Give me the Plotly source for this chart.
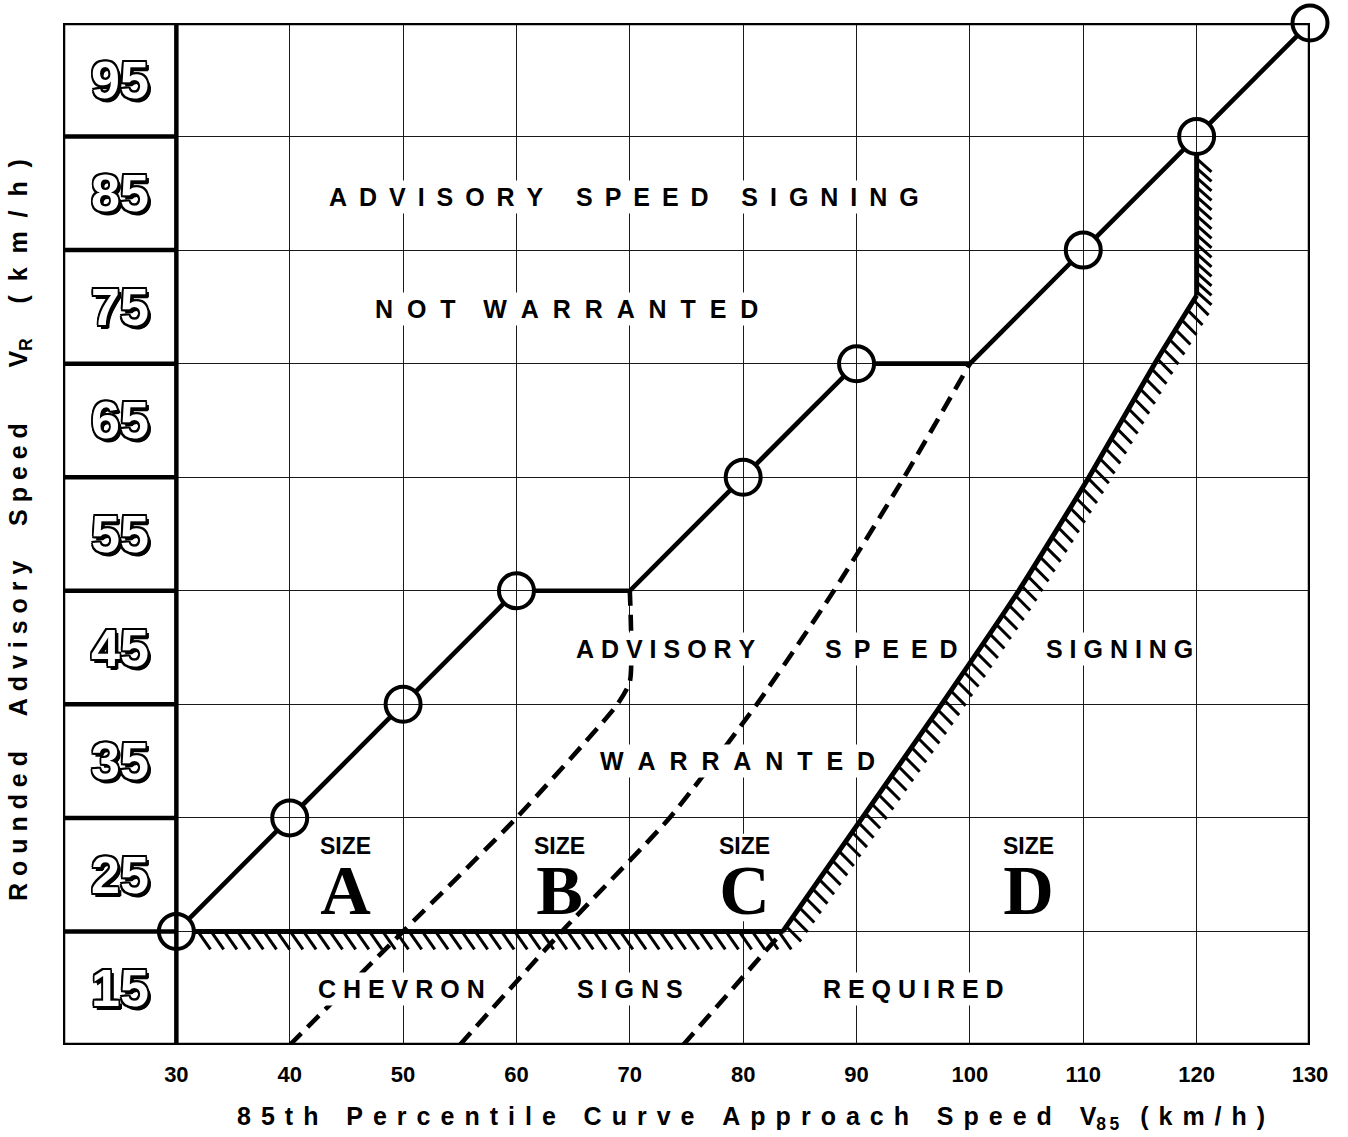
import numpy as np
import plotly.graph_objects as go

# ---------------- data ----------------
x_ticks = [30, 40, 50, 60, 70, 80, 90, 100, 110, 120, 130]
grid_y = [20, 30, 40, 50, 60, 70, 80, 90]
row_centers = [15, 25, 35, 45, 55, 65, 75, 85, 95]
row_labels = ["15", "25", "35", "45", "55", "65", "75", "85", "95"]

# advisory-speed step line (85th percentile speed -> rounded advisory speed)
main_x = [30, 40, 50, 60, 70, 80, 90, 100, 110, 120, 130]
main_y = [20, 30, 40, 50, 50, 60, 70, 70, 80, 90, 100]
main_circle = [True, True, True, True, False, True, True, False, True, True, True]

# dashed size boundaries
ab_x = [40, 50, 60, 68.9, 70, 70]
ab_y = [10, 20, 30, 40, 42, 50]
bc_x = [55, 64, 73.5, 81.2, 88, 94.2, 100]
bc_y = [10, 20, 30, 40, 50, 60, 70]
cd_x = [74.7, 83.5]
cd_y = [10, 20]

# chevron-required boundary (hatched)
base_x = [30, 83.5]
base_y = [20, 20]
d_x = [83.5, 90.5, 97.5, 104.3, 110.5, 116.3, 120]
d_y = [20, 30, 40, 50, 60, 70, 76]
vert_x = [120, 120]
vert_y = [76, 90]

size_x = [44.9, 63.8, 80.1, 105.2]
size_letters = ["A", "B", "C", "D"]

X0, X1, Y0, Y1 = 20, 130, 10, 100

# ---------------- geometry helpers ----------------
ML, MR, MT, MB = 63, 38, 23, 92
W, H = 1348, 1137
SX = (W - ML - MR) / (X1 - X0)
SY = (H - MT - MB) / (Y1 - Y0)
R_CIRC = 17.5  # px


def shift(p, q, dist_px):
    """move p toward q by dist_px pixels"""
    dx, dy = (q[0] - p[0]) * SX, (q[1] - p[1]) * SY
    L = np.hypot(dx, dy)
    return (p[0] + dx / L * dist_px / SX, p[1] + dy / L * dist_px / SY)


def polylines_avoiding_circles(xs, ys, circ):
    ox, oy = [], []
    cur = []
    for i in range(len(xs) - 1):
        p, q = (xs[i], ys[i]), (xs[i + 1], ys[i + 1])
        a = shift(p, q, R_CIRC) if circ[i] else p
        b = shift(q, p, R_CIRC) if circ[i + 1] else q
        if not cur:
            cur = [a]
        cur.append(b)
        if circ[i + 1]:
            ox += [c[0] for c in cur] + [None]
            oy += [c[1] for c in cur] + [None]
            cur = []
    if cur:
        ox += [c[0] for c in cur] + [None]
        oy += [c[1] for c in cur] + [None]
    return ox, oy


def hatch(xs, ys, spacing, length, angle_deg, start=0.0, end_trim=0.0):
    px = np.array(xs) * SX
    py = np.array(ys) * SY
    seg = np.hypot(np.diff(px), np.diff(py))
    cum = np.concatenate([[0], np.cumsum(seg)])
    total = cum[-1]
    ddx = length * np.cos(np.radians(angle_deg)) / SX
    ddy = -length * np.sin(np.radians(angle_deg)) / SY
    hx, hy = [], []
    s = start
    while s <= total - end_trim + 1e-6:
        k = min(np.searchsorted(cum, s, side="right") - 1, len(seg) - 1)
        t = (s - cum[k]) / seg[k]
        x = xs[k] + t * (xs[k + 1] - xs[k])
        y = ys[k] + t * (ys[k + 1] - ys[k])
        hx += [x, x + ddx, None]
        hy += [y, y + ddy, None]
        s += spacing
    return hx, hy


fig = go.Figure()

LW = 4.6
# main advisory speed line
mx, my = polylines_avoiding_circles(main_x, main_y, main_circle)
fig.add_trace(go.Scatter(x=mx, y=my, mode="lines",
                         line=dict(color="black", width=LW), hoverinfo="skip"))
cx = [x for x, c in zip(main_x, main_circle) if c]
cy = [y for y, c in zip(main_y, main_circle) if c]
fig.add_trace(go.Scatter(x=cx, y=cy, mode="markers", cliponaxis=False,
                         marker=dict(symbol="circle-open", size=2 * R_CIRC, color="black",
                                     line=dict(width=4, color="black")), hoverinfo="skip"))

# dashed size boundaries
dash = "16px,9px"
for xs, ys in [(ab_x, ab_y), (bc_x, bc_y), (cd_x, cd_y)]:
    fig.add_trace(go.Scatter(x=xs, y=ys, mode="lines",
                             line=dict(color="black", width=LW, dash=dash,
                                       shape="spline", smoothing=0.6),
                             hoverinfo="skip"))

# hatched boundary
b0 = shift((base_x[0], base_y[0]), (base_x[1], base_y[1]), R_CIRC)
fig.add_trace(go.Scatter(x=[b0[0], base_x[1]], y=base_y, mode="lines",
                         line=dict(color="black", width=5), hoverinfo="skip"))
fig.add_trace(go.Scatter(x=d_x, y=d_y, mode="lines",
                         line=dict(color="black", width=5, shape="spline", smoothing=0.5),
                         hoverinfo="skip"))
v1 = shift((vert_x[1], vert_y[1]), (vert_x[0], vert_y[0]), R_CIRC)
fig.add_trace(go.Scatter(x=[vert_x[0], v1[0]], y=[vert_y[0], v1[1]], mode="lines",
                         line=dict(color="black", width=5), hoverinfo="skip"))

hx1, hy1 = hatch([b0[0], base_x[1]], base_y, 13.2, 22, 55, start=4)
hx2, hy2 = hatch(d_x, d_y, 11.5, 21, 45, start=6)
hx3, hy3 = hatch([vert_x[0], v1[0]], [vert_y[0], v1[1]], 9.5, 20, 42, start=4)
fig.add_trace(go.Scatter(x=hx1 + hx2 + hx3, y=hy1 + hy2 + hy3, mode="lines",
                         line=dict(color="black", width=3), hoverinfo="skip"))

# frame shapes
shapes = [dict(type="rect", xref="x", yref="y", x0=X0, x1=X1, y0=Y0, y1=Y1,
               line=dict(color="black", width=4.5), layer="above"),
          dict(type="line", xref="x", yref="y", x0=x_ticks[0], x1=x_ticks[0], y0=Y0, y1=Y1,
               line=dict(color="black", width=4.5), layer="above")]
for gy in grid_y:
    shapes.append(dict(type="line", xref="x", yref="y", x0=X0, x1=x_ticks[0], y0=gy, y1=gy,
                       line=dict(color="black", width=4.5), layer="above"))
# white patches that break the grid behind the SIZE labels
for sxv in size_x:
    shapes.append(dict(type="rect", xref="x", yref="y", x0=sxv - 2.6, x1=sxv + 2.6,
                       y0=20.9, y1=28.6, line=dict(width=0), fillcolor="white",
                       layer="between"))

NB = "\u00a0"
TH = "\u2009"


def spaced(s, gap=NB, word=NB * 4):
    return word.join(gap.join(list(w)) for w in s.split(" "))


SANS = "Liberation Sans, Arial, Helvetica, sans-serif"
SERIF = "Liberation Serif, Times New Roman, serif"

annotations = []
outline = ("-1.6px -1.6px 0 #000, 1.6px -1.6px 0 #000, -1.6px 1.6px 0 #000, 1.6px 1.6px 0 #000, "
           "0 -1.8px 0 #000, 0 1.8px 0 #000, -1.8px 0 0 #000, 1.8px 0 0 #000, "
           "3px 3px 0 #000, 3.5px 2.5px 0 #000, 2.5px 3.5px 0 #000")
for yc, lab in zip(row_centers, row_labels):
    annotations.append(dict(x=(X0 + x_ticks[0]) / 2, y=yc, xref="x", yref="y", text=lab,
                            showarrow=False,
                            font=dict(family=SANS, size=52, color="white", weight="bold",
                                      shadow=outline)))


def region_text(x, y, txt, gap=NB, word=NB * 4, size=25):
    annotations.append(dict(x=x, y=y, xref="x", yref="y", text=spaced(txt, gap, word),
                            showarrow=False, bgcolor="white", borderpad=2,
                            font=dict(family=SANS, size=size, color="black", weight="bold")))


region_text(69.5, 84.7, "ADVISORY SPEED SIGNING", gap=NB + TH, word=NB * 4 + TH)
region_text(64.4, 74.8, "NOT WARRANTED", gap=NB * 2, word=NB * 4)
region_text(73.2, 44.9, "ADVISORY", gap=NB)
region_text(93.1, 44.9, "SPEED", gap=NB + TH)
region_text(113.2, 44.9, "SIGNING", gap=NB)
region_text(79.5, 35.0, "WARRANTED", gap=NB * 2)
region_text(49.9, 14.9, "CHEVRON", gap=NB)
region_text(70.0, 14.9, "SIGNS", gap=NB)
region_text(95.0, 14.9, "REQUIRED", gap=NB)

# "SIZE" + big serif letter as one stacked label
for sxv, letter in zip(size_x, size_letters):
    txt = ("SIZE<br><br><span style='font-size:70px;font-family:Liberation Serif, "
           "Times New Roman, serif'>" + letter + "</span>")
    annotations.append(dict(x=sxv, y=28.75, xref="x", yref="y", text=txt, showarrow=False,
                            yanchor="top", align="center", borderpad=0,
                            font=dict(family=SANS, size=23, color="black", weight="bold")))

# axis titles
xt = (NB * 4).join((TH * 2).join(list(w)) for w in "85th Percentile Curve Approach Speed".split(" "))
xt += NB * 4 + "V<sub>8" + TH + "5</sub>" + NB * 3 + (TH * 2).join(list("(km/h)"))
annotations.append(dict(x=(751 - ML) / (W - ML - MR), y=0, xref="paper", yref="paper",
                        yshift=-(1118 - (H - MB)), yanchor="middle", text=xt, showarrow=False,
                        font=dict(family=SANS, size=25, color="black", weight="bold")))
yt = (spaced("Rounded Advisory Speed", NB, NB * 5) + NB * 8 + "V<sub>R</sub>" + NB * 5
      + (NB * 2).join(list("(km/h)")))
annotations.append(dict(x=0, y=(H - MB - 530) / (H - MT - MB), xref="paper", yref="paper",
                        xshift=-(ML - 20), xanchor="center", yanchor="middle", textangle=-90,
                        text=yt, showarrow=False,
                        font=dict(family=SANS, size=25, color="black", weight="bold")))

fig.update_layout(
    width=W, height=H, autosize=False,
    margin=dict(l=ML, r=MR, t=MT, b=MB, pad=0),
    plot_bgcolor="white", paper_bgcolor="white",
    showlegend=False,
    shapes=shapes, annotations=annotations,
    xaxis=dict(range=[X0, X1], tickvals=x_ticks, ticktext=[str(v) for v in x_ticks],
               showgrid=True, gridcolor="#1a1a1a", gridwidth=1.4, zeroline=False,
               showline=False, ticks="", ticklabelstandoff=14,
               tickfont=dict(family="Liberation Sans Narrow, " + SANS, size=22,
                             color="black", weight="bold")),
    yaxis=dict(range=[Y0, Y1], tickvals=grid_y, showticklabels=False,
               showgrid=True, gridcolor="#1a1a1a", gridwidth=1.4, zeroline=False,
               showline=False, ticks=""),
)

fig.write_html("out.html", config={"displayModeBar": False},
               post_script="document.body.style.margin='0';")
